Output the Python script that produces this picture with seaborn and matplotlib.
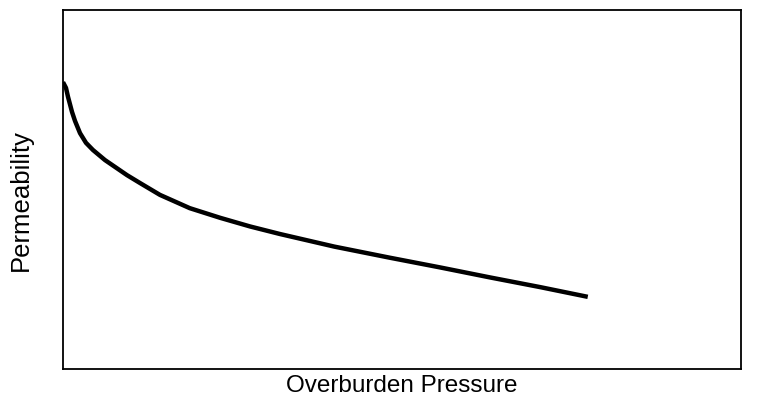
import matplotlib
matplotlib.use("Agg")
import matplotlib.pyplot as plt
import seaborn as sns
import pandas as pd

pressure = [0.0, 0.44, 0.74, 1.33, 1.77, 2.51, 3.39, 4.42, 6.19, 9.44, 11.36, 14.3,
            18.7, 23.2, 27.6, 32.0, 40.0, 48.2, 55.6, 63.0, 70.4, 77.4]
permeability = [79.9, 78.3, 75.8, 71.6, 69.1, 65.7, 63.0, 61.0, 58.2, 54.0, 51.8, 48.5,
                44.8, 42.1, 39.7, 37.6, 34.1, 31.0, 28.3, 25.5, 22.8, 20.1]

df = pd.DataFrame({"Overburden Pressure": pressure, "Permeability": permeability})

sns.set_style("white")
plt.rcParams["font.family"] = ["Liberation Sans", "DejaVu Sans"]

fig = plt.figure(figsize=(7.57, 4.0), dpi=100)
ax = fig.add_axes([63/757, 31/400, 678/757, 359/400])
sns.lineplot(data=df, x="Overburden Pressure", y="Permeability", ax=ax,
             color="black", linewidth=3.2, sort=False)
ax.lines[0].set_solid_joinstyle("round")
ax.lines[0].set_solid_capstyle("butt")
ax.set_xlim(0, 100)
ax.set_ylim(0, 100)
ax.set_xticks([])
ax.set_yticks([])
ax.set_xlabel("Overburden Pressure", fontsize=17.5, labelpad=4, color="black")
ax.set_ylabel("Permeability", fontsize=18.5, color="black")
ax.yaxis.set_label_coords(-0.045, 0.47)
for s in ax.spines.values():
    s.set_color("black")
    s.set_linewidth(1.3)
fig.savefig("out.png", dpi=100)
